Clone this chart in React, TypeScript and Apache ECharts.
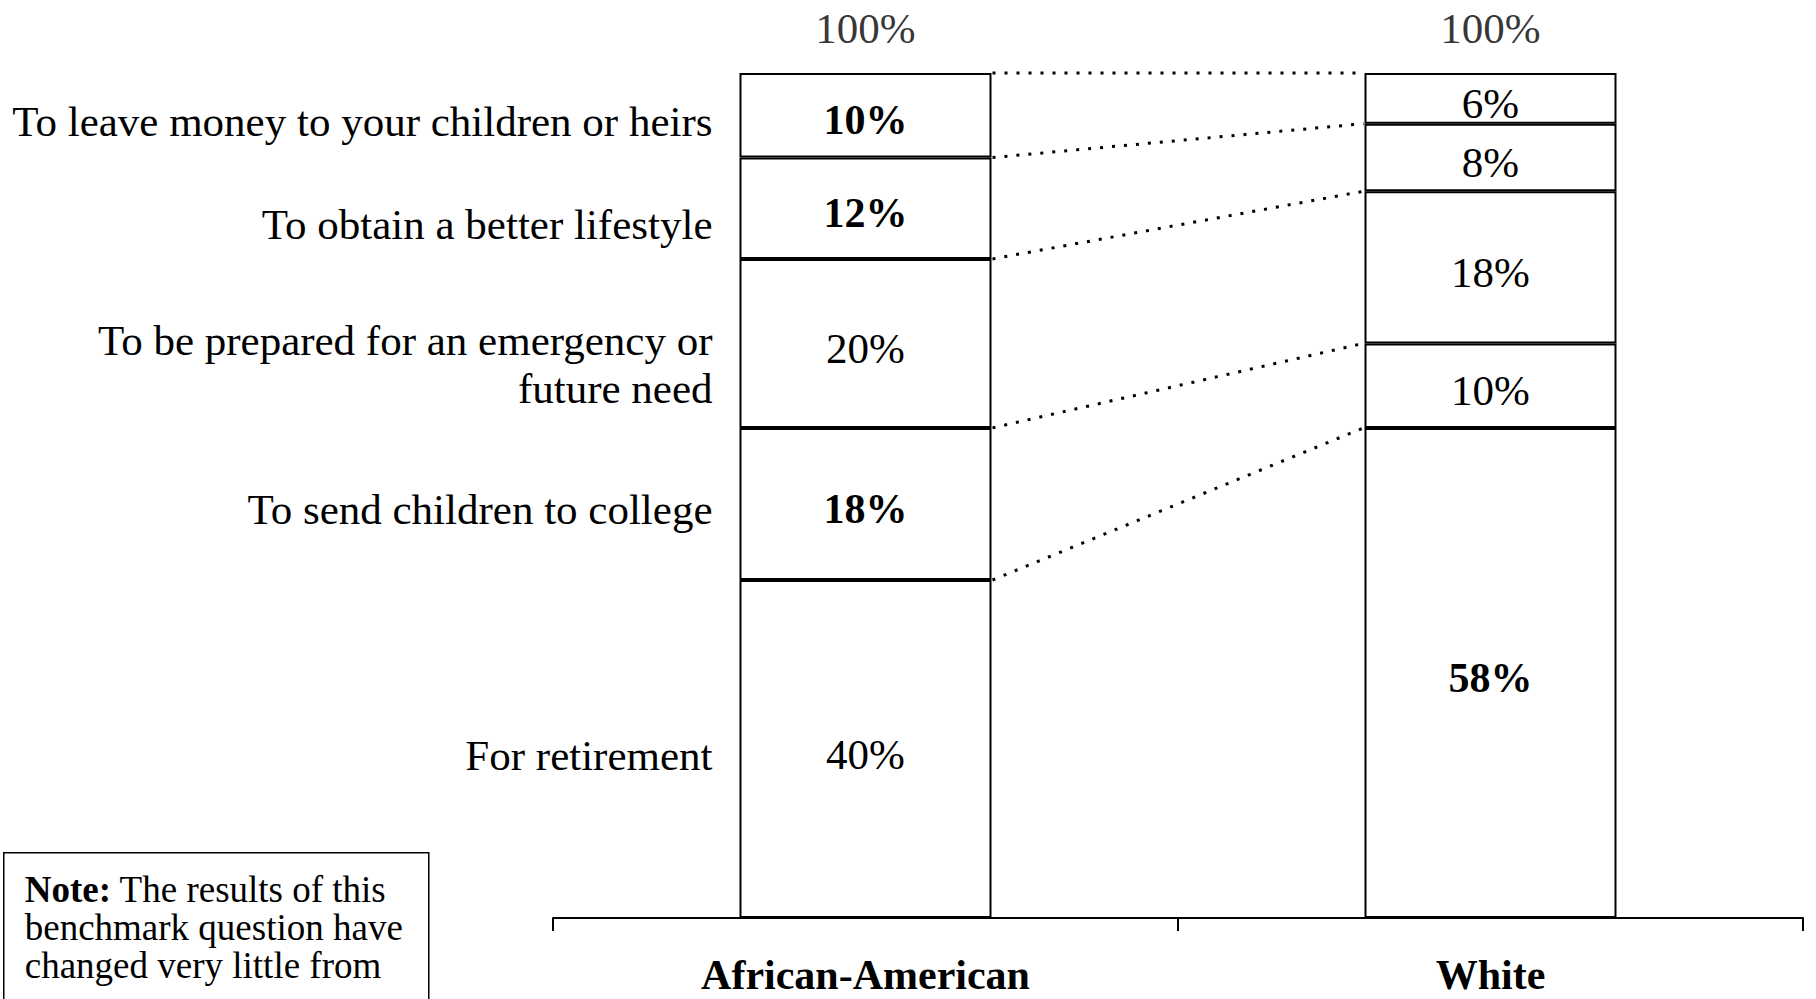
import React, { useEffect, useRef } from "react";
import * as echarts from "echarts";

const categories = ["African-American", "White"];
const reasons = [
  "For retirement",
  "To send children to college",
  "To be prepared for an emergency or\nfuture need",
  "To obtain a better lifestyle",
  "To leave money to your children or heirs",
];
const africanAmerican = [40, 18, 20, 12, 10];
const white = [58, 10, 18, 8, 6];
const africanAmericanBold = [false, true, false, true, true];
const whiteBold = [true, false, false, false, false];
const noteBold = "Note:";
const noteLines = [" The results of this", "benchmark question have", "changed very little from"];

const FONT = "'Liberation Serif', 'Times New Roman', serif";
const BAR_W = 252;
const FS = 43;
const FS_BOLD = 42;
const LEFT_LABEL_OFFSETS = [6, 6, 21, 16, 6];

function cumulative(arr: number[]) {
  const out: number[] = [];
  let s = 0;
  for (const v of arr) {
    s += v;
    out.push(s);
  }
  return out;
}

export default function App() {
  const ref = useRef<HTMLDivElement>(null);
  useEffect(() => {
    if (!ref.current) return;
    const chart = echarts.init(ref.current, null, { renderer: "svg" });
    const cumAA = cumulative(africanAmerican);
    const cumW = cumulative(white);
    const totals = [cumAA[cumAA.length - 1], cumW[cumW.length - 1]];

    const itemLabel = (bold: boolean) => ({
      fontWeight: bold ? "bold" : "normal",
      fontSize: bold ? FS_BOLD : FS,
    });

    const barSeries = reasons.map((r, i) => ({
      type: "bar",
      name: r,
      stack: "total",
      barWidth: BAR_W,
      itemStyle: { color: "#ffffff", borderColor: "#000000", borderWidth: 2 },
      label: {
        show: true,
        position: "inside",
        offset: [0, 5],
        formatter: "{c}%",
        color: "#000",
        fontFamily: FONT,
        fontSize: FS,
      },
      data: [
        { value: africanAmerican[i], label: itemLabel(africanAmericanBold[i]) },
        { value: white[i], label: itemLabel(whiteBold[i]) },
      ],
    }));

    const connectorData = cumAA.map((a, i) => [0, a, cumW[i]]);
    const leftLabelData = cumAA.map((c, i) => [0, c - africanAmerican[i] / 2, i]);

    const option: any = {
      animation: false,
      backgroundColor: "#ffffff",
      grid: { left: 553, right: 13, top: 73, bottom: 81, containLabel: false },
      xAxis: {
        type: "category",
        data: categories,
        axisLine: { lineStyle: { color: "#000", width: 2 } },
        axisTick: { show: true, length: 13, lineStyle: { color: "#000", width: 2 } },
        axisLabel: {
          color: "#000",
          fontFamily: FONT,
          fontSize: FS_BOLD,
          fontWeight: "bold",
          margin: 36,
        },
        splitLine: { show: false },
      },
      yAxis: { type: "value", min: 0, max: 100, show: false },
      series: [
        ...barSeries,
        {
          type: "scatter",
          data: totals,
          symbolSize: 1,
          itemStyle: { color: "rgba(0,0,0,0)" },
          label: {
            show: true,
            position: "top",
            distance: 23,
            formatter: "{c}%",
            color: "#000",
            fontFamily: FONT,
            fontSize: FS,
          },
          z: 5,
        },
        {
          type: "custom",
          data: connectorData,
          encode: { x: 0, y: [1, 2] },
          z: 4,
          renderItem: (params: any, api: any) => {
            const p1 = api.coord([0, api.value(1)]);
            const p2 = api.coord([1, api.value(2)]);
            return {
              type: "line",
              shape: { x1: p1[0] + BAR_W / 2 + 1, y1: p1[1], x2: p2[0] - BAR_W / 2 - 1, y2: p2[1] },
              style: { stroke: "#000", lineWidth: 3, lineDash: [3, 9] },
            };
          },
        },
        {
          type: "custom",
          data: leftLabelData,
          encode: { x: 0, y: 1 },
          z: 4,
          renderItem: (params: any, api: any) => {
            const idx = api.value(2);
            const p = api.coord([0, api.value(1)]);
            return {
              type: "text",
              x: p[0] - BAR_W / 2 - 27,
              y: p[1] + LEFT_LABEL_OFFSETS[idx],
              style: {
                text: reasons[idx],
                align: "right",
                verticalAlign: "middle",
                fill: "#000",
                fontFamily: FONT,
                fontSize: FS,
                lineHeight: 48,
              },
            };
          },
        },
      ],
      graphic: [
        {
          type: "group",
          left: 3,
          top: 852,
          children: [
            {
              type: "rect",
              shape: { x: 0, y: 0, width: 425, height: 200 },
              style: { fill: "#fff", stroke: "#000", lineWidth: 1.5 },
            },
            {
              type: "text",
              x: 21,
              y: 18,
              style: {
                text: "{b|" + noteBold + "}" + noteLines.join("\n"),
                fill: "#000",
                fontFamily: FONT,
                fontSize: 37,
                lineHeight: 38,
                rich: {
                  b: { fontFamily: FONT, fontSize: 37, fontWeight: "bold", lineHeight: 38, fill: "#000" },
                },
              },
            },
          ],
        },
      ],
    };
    chart.setOption(option);
    return () => chart.dispose();
  }, []);
  return (
    <div
      ref={ref}
      style={{ position: "fixed", left: 0, top: 0, width: 1816, height: 999, background: "#fff" }}
    />
  );
}
